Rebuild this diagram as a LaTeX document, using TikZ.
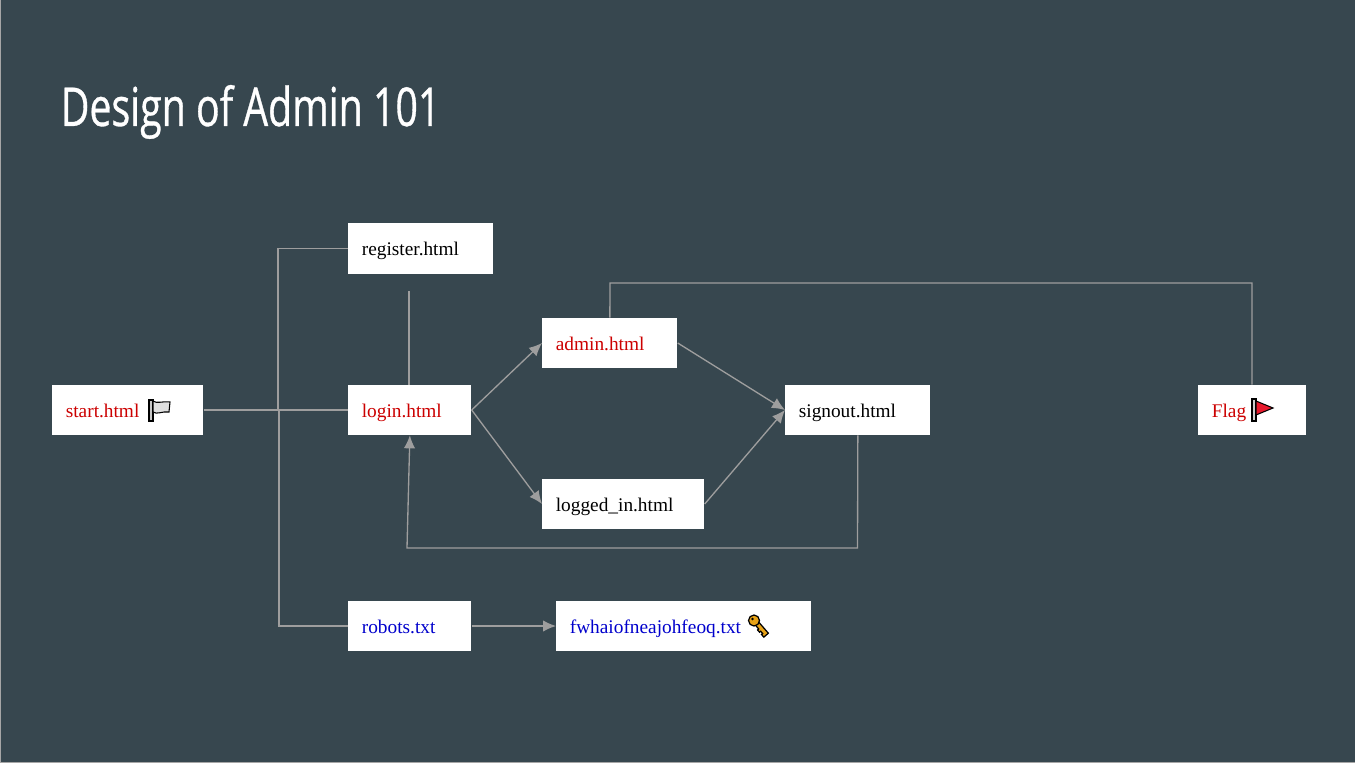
\documentclass[tikz,border=0pt]{standalone}
\usepackage{fontspec}
\setmainfont{Liberation Serif}
\newfontfamily\titlefont[FakeStretch=0.733,FakeBold=0.6]{Open Sans}
\usetikzlibrary{arrows.meta}
\definecolor{slidebg}{HTML}{37474F}
\definecolor{wire}{HTML}{9E9E9E}
\definecolor{redpage}{HTML}{CC0000}
\definecolor{bluepage}{HTML}{0000CC}
\definecolor{flagred}{HTML}{E8192C}
\definecolor{keygold}{HTML}{E8A317}
\tikzset{
    pagebox/.style={fill=white,anchor=west,inner xsep=0.27cm,inner ysep=0pt,
        text width=#1*0.02cm-0.54cm,align=left,minimum height=1cm,
        text height=0.37cm,text depth=0.08cm,
        font=\fontsize{11pt}{13pt}\selectfont},
    wireline/.style={draw=wire,line width=0.75pt},
    wirearrow/.style={wireline,-{Latex[length=0.26cm,width=0.23cm]}},
    whiteflag/.pic={
        \draw[black,line width=0.6pt,fill=gray!45] (0,0) -- (0,21) -- (4,21) -- (4,0) -- cycle;
        \draw[black,line width=0.6pt,fill=gray!25] (4,1) .. controls (8,4) and (13,1) .. (21,2)
            -- (20,12) .. controls (13,11) and (8,15) .. (4,12) -- cycle;
    },
    redflag/.pic={
        \draw[black,line width=0.6pt,fill=gray!40] (0,0) -- (0,22) -- (4,22) -- (4,0) -- cycle;
        \draw[black,line width=0.6pt,fill=flagred] (4,2) -- (21,9) -- (4,16) -- cycle;
    },
    keyicon/.pic={
        \draw[black,line width=0.7pt,fill=keygold,rotate=-49] (0,-2.5) -- (19,-2.5) -- (19,3.5) -- (15.5,3.5) -- (15.5,2) -- (12.5,2) -- (12.5,3.5) -- (9.5,3.5) -- (9.5,2) -- (0,2) -- cycle;
        \draw[black,line width=0.7pt,fill=keygold] (0,0) circle (5.5);
        \fill[black] (-1.5,-1.5) circle (1.3);
    }
}
\begin{document}
\begin{tikzpicture}[x=0.02cm,y=-0.02cm]
    \useasboundingbox (0,0) rectangle (1355,763);
    \fill[slidebg] (0,0) rectangle (1355,763);
    \draw[gray!70,line width=0.6pt] (0.5,0) -- (0.5,762.5) -- (1355,762.5);

    \node[anchor=base west,text=white,inner sep=0pt,font=\titlefont\fontsize{30.5pt}{34pt}\selectfont] (title) at (60.5,126) {Design of Admin 101};

    \node[pagebox=151,text=redpage]   (start)    at (52,410)  {start.html};
    \node[pagebox=145,minimum height=1.02cm] (register) at (348,248.5) {register.html};
    \node[pagebox=123,text=redpage]   (login)    at (348,410) {login.html};
    \node[pagebox=135,text=redpage]   (admin)    at (542,343) {admin.html};
    \node[pagebox=162]                (loggedin) at (542,504) {logged\_in.html};
    \node[pagebox=145]                (signout)  at (785,410) {signout.html};
    \node[pagebox=108,text=redpage]   (flag)     at (1198,410) {Flag};
    \node[pagebox=123,text=bluepage]  (robots)   at (348,626) {robots.txt};
    \node[pagebox=255,text=bluepage]  (secret)   at (556,626) {fwhaiofneajohfeoq.txt};

    \pic at (149,400) {whiteflag};
    \pic at (1252,399) {redflag};
    \pic at (754,620.5) {keyicon};

    \coordinate (reghub)   at (278,248.5);
    \coordinate (reghubb)  at (278,410);
    \coordinate (robhub)   at (279,626);
    \coordinate (robhubb)  at (279,410);
    \coordinate (stub)     at (409,291);
    \coordinate (backdown) at (857.5,548);
    \coordinate (backleft) at (407,548);
    \coordinate (flagup)   at (1252,283);
    \coordinate (adminup)  at (610,283);

    \draw[wireline] (start.east) -- (login.west);
    \draw[wireline] (register.west) -- (reghub) -- (reghubb);
    \draw[wireline] (robots.west) -- (robhub) -- (robhubb);
    \draw[wireline] (stub) -- (stub |- login.north);
    \draw[wirearrow] (login.east) -- (admin.west);
    \draw[wirearrow] (login.east) -- (loggedin.west);
    \draw[wirearrow] (admin.east) -- (signout.west);
    \draw[wirearrow] (loggedin.east) -- (signout.west);
    \draw[wirearrow] (signout.south) -- (backdown) -- (backleft) -- (login.south);
    \draw[wireline] (admin.north) -- (adminup) -- (flagup) -- (flagup |- flag.north);
    \draw[wirearrow] (robots.east) -- (secret.west);
\end{tikzpicture}
\end{document}
